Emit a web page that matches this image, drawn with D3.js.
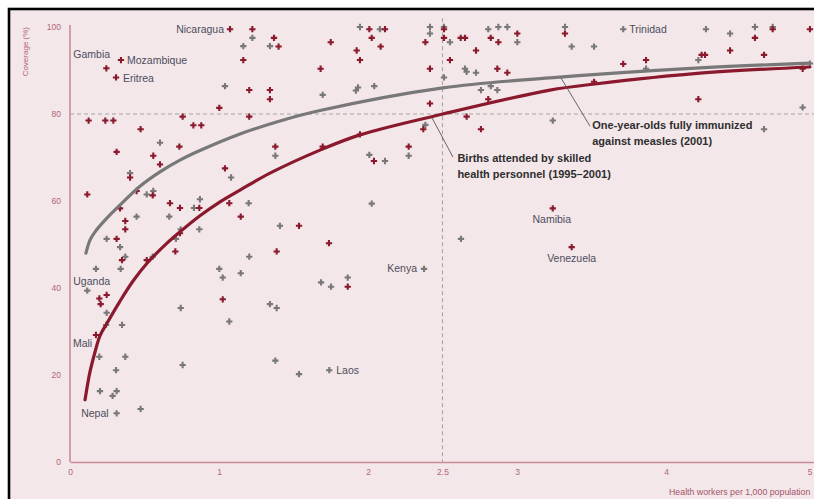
<!DOCTYPE html>
<html><head><meta charset="utf-8">
<script src="https://cdn.jsdelivr.net/npm/d3@7"></script>
<style>body{margin:0;background:#fff;} svg{display:block;}</style>
</head><body><svg id="chart" width="814" height="499"></svg>
<script>
// ---------- DATA ----------
const xTicks = [0, 1, 2, 2.5, 3, 4, 5];
const yTicks = [0, 20, 40, 60, 80, 100];
const refX = 2.5, refY = 80;

// Births attended by skilled health personnel (1995–2001): [health workers per 1,000, coverage %]
const birthsPoints = [
  [1.074,99.5],[1.224,99.5],[1.369,97.5],[1.40,95.5],[1.163,92.4],[0.342,92.4],[0.244,90.5],[0.309,88.4],
  [1.203,85.5],[1.342,85.5],[1.342,83.4],[1.002,81.4],[1.203,79.4],[0.125,78.5],[0.237,78.5],[0.291,78.5],
  [0.756,79.4],[0.828,77.4],[0.881,77.4],[0.474,76.5],[0.734,72.5],[0.313,71.3],[0.559,70.4],[0.604,68.4],
  [1.04,67.5],[1.378,72.5],[0.403,65.4],[0.116,61.5],[0.447,62.3],[0.555,61.3],[0.671,59.5],[0.738,58.4],
  [0.868,58.4],[1.069,59.5],[0.336,58.3],[1.146,56.4],[0.371,55.4],[0.371,53.5],[0.738,52.6],[0.313,51.3],
  [0.707,48.4],[1.387,48.4],[0.349,46.4],[0.515,46.4],[0.197,37.6],[0.246,38.4],[0.206,36.3],[1.025,37.4],
  [0.174,29.2],[2.04,69.2],[1.537,54.3],[1.738,50.3],[1.864,40.3],[3.24,58.3],[3.367,49.4],
  [2.009,99.5],[2.114,99.5],[2.025,97.5],[1.75,96.5],[1.924,94.6],[2.085,95.5],[1.946,92.4],[1.682,90.4],
  [1.696,72.5],[1.946,75.3],[2.273,72.5],[2.385,96.5],[2.51,99.5],[2.51,97.5],[2.416,90.4],[2.55,92.4],
  [2.622,97.5],[2.651,97.5],[2.725,94.6],[2.824,97.5],[2.875,96.5],[3.002,98.5],[2.868,90.4],[2.935,89.5],
  [2.807,83.4],[2.416,82.4],[2.662,79.4],[2.371,76.5],[2.758,76.5],
  [3.322,98.5],[3.713,91.5],[3.866,92.4],[3.517,87.4],[4.597,97.5],[4.716,99.5],[4.966,99.5],[4.43,94.6],
  [4.239,93.6],[4.262,93.6],[4.658,93.6],[4.917,90.4],[4.217,83.4]
];

// One-year-olds fully immunized against measles (2001)
const measlesPoints = [
  [1.224,97.5],[1.163,95.6],[1.342,95.6],[1.04,86.4],[0.604,73.4],[1.378,70.4],
  [0.403,66.4],[1.081,65.4],[0.515,61.5],[0.559,62.3],[0.832,58.4],[0.872,60.4],[1.199,59.5],[0.447,56.4],
  [0.666,56.4],[0.743,53.5],[0.868,53.5],[0.711,51.3],[0.246,51.3],[0.336,49.4],[0.371,47.2],[0.555,47.2],
  [1.203,47.2],[0.174,44.4],[0.340,44.4],[1.002,44.4],[1.025,42.4],[1.146,43.4],[0.116,39.4],[0.246,34.3],
  [0.743,35.4],[1.342,36.3],[1.387,35.4],[1.069,32.3],[0.242,31.5],[0.349,31.5],[1.409,54.3],
  [0.197,24.2],[0.371,24.2],[0.309,21.1],[0.756,22.3],[1.378,23.3],[0.201,16.3],[0.313,16.3],[0.286,15.2],
  [0.474,12.2],[0.313,11.2],[1.537,20.2],[1.74,21.1],
  [2.114,69.2],[2.025,59.4],[2.376,44.4],[1.864,42.4],[1.685,41.3],[1.752,40.3],[2.624,51.3],
  [1.946,100],[2.08,99.5],[1.933,86.1],[1.919,85.4],[2.042,86.4],[1.696,84.4],[2.009,70.6],[2.273,70.4],
  [2.416,100],[2.416,98.5],[2.51,100],[2.55,96.5],[2.51,88.4],[2.807,99.5],[2.875,100],[2.935,100],
  [3.002,96.5],[2.651,90.4],[2.662,89.7],[2.725,89.5],[2.758,85.5],[2.824,86.4],[2.868,85.5],[2.385,77.5],
  [3.322,100],[3.367,95.5],[3.517,95.5],[3.713,99.5],[3.866,90.4],[4.268,99.5],[4.43,98.5],[4.597,100],
  [4.716,100],[4.217,92.4],[4.966,91.6],[4.917,81.5],[3.24,78.5],[4.658,76.5]
];

// Fitted trend curves
const birthsCurve = [
  [0.101,14.3],[0.134,20.7],[0.168,25.3],[0.201,29.0],[0.248,31.9],[0.336,37.0],[0.423,41.6],[0.517,45.7],
  [0.651,50.3],[0.738,52.9],[0.872,56.6],[1.007,59.8],[1.141,62.5],[1.342,66.4],[1.678,71.7],[1.946,75.2],
  [2.503,80.0],[3.221,85.5],[3.523,86.9],[4.228,89.4],[4.966,90.8]
];
const measlesCurve = [
  [0.107,48.0],[0.134,51.0],[0.168,52.9],[0.235,55.6],[0.336,59.1],[0.470,63.4],[0.604,66.7],[0.738,69.4],
  [0.872,71.6],[1.141,75.4],[1.409,78.4],[1.678,80.8],[2.503,86.0],[3.221,88.3],[4.228,90.6],[4.966,91.7]
];

const countryLabels = [
  {name:"Nicaragua", x:1.074, y:99.5},
  {name:"Gambia", x:0.244, y:90.5},
  {name:"Mozambique", x:0.342, y:92.4},
  {name:"Eritrea", x:0.309, y:88.4},
  {name:"Uganda", x:0.116, y:39.4},
  {name:"Mali", x:0.174, y:29.2},
  {name:"Nepal", x:0.313, y:11.2},
  {name:"Laos", x:1.74, y:21.1},
  {name:"Kenya", x:2.376, y:44.4},
  {name:"Namibia", x:3.24, y:58.3},
  {name:"Venezuela", x:3.367, y:49.4},
  {name:"Trinidad", x:3.713, y:99.5}
];
const birthsTitle = ["Births attended by skilled", "health personnel (1995\u20132001)"];
const measlesTitle = ["One-year-olds fully immunized", "against measles (2001)"];
const xTitle = "Health workers per 1,000 population";
const yTitle = "Coverage (%)";

// ---------- STYLE / LAYOUT ----------
const RED = "#8a192d", GRAY = "#787878", AXIS = "#c98c98", TICKTXT = "#b26677";
const BG = "#f3e7ea";
const FONT = "'Liberation Sans', Arial, Helvetica, sans-serif";

const svg = d3.select("#chart");
svg.append("rect").attr("x", 9).attr("y", 9).attr("width", 900).attr("height", 600)
  .attr("fill", BG).attr("stroke", "#000").attr("stroke-width", 2.6);

const x = d3.scaleLinear().domain([0, 5]).range([70, 815]);
const y = d3.scaleLinear().domain([0, 100]).range([462, 27]);

// reference dashed lines
svg.append("line").attr("x1", x(0)).attr("x2", 814).attr("y1", y(refY)).attr("y2", y(refY))
  .attr("stroke", "#a9a3a5").attr("stroke-width", 1.1).attr("stroke-dasharray", "4,3");
svg.append("line").attr("x1", x(refX)).attr("x2", x(refX)).attr("y1", y(102)).attr("y2", y(0))
  .attr("stroke", "#a9a3a5").attr("stroke-width", 1.1).attr("stroke-dasharray", "4,3");

// axes
const yAxis = svg.append("g").attr("transform", `translate(${x(0)},0)`)
  .call(d3.axisLeft(y).tickValues(yTicks).tickSize(0).tickPadding(9));
const xAxis = svg.append("g").attr("transform", `translate(0,${y(0)})`)
  .call(d3.axisBottom(x).tickValues(xTicks).tickSize(0).tickPadding(7).tickFormat(d => String(d)));
[yAxis, xAxis].forEach(g => {
  g.select(".domain").attr("stroke", AXIS).attr("stroke-width", 1.6);
  g.selectAll("text").attr("fill", TICKTXT).attr("font-family", FONT).attr("font-size", 8.5);
});
yAxis.select(".domain").attr("d", `M0,${y(0)}V${y(100) - 2}`);
xAxis.selectAll(".tick text").filter(d => d === 5).attr("text-anchor", "end").attr("dx", -3);

svg.append("text").attr("transform", `translate(28,${y(100)}) rotate(-90)`)
  .attr("text-anchor", "end").attr("font-family", FONT).attr("font-size", 8)
  .attr("fill", TICKTXT).text(yTitle);
svg.append("text").attr("x", 669).attr("y", 495).attr("font-family", FONT).attr("font-size", 8.8)
  .attr("fill", "#a35566").text(xTitle);

// points
const sym = d3.symbol().type(d3.symbolCross).size(22);
svg.append("g").selectAll("path").data(measlesPoints).join("path")
  .attr("d", sym).attr("transform", d => `translate(${x(d[0])},${y(d[1])})`).attr("fill", GRAY);
svg.append("g").selectAll("path").data(birthsPoints).join("path")
  .attr("d", sym).attr("transform", d => `translate(${x(d[0])},${y(d[1])})`).attr("fill", RED);

// curves
const line = d3.line().x(d => x(d[0])).y(d => y(d[1])).curve(d3.curveCatmullRom.alpha(0.5));
svg.append("path").datum(measlesCurve).attr("d", line).attr("fill", "none")
  .attr("stroke", GRAY).attr("stroke-width", 3.2).attr("stroke-linecap", "round");
svg.append("path").datum(birthsCurve).attr("d", line).attr("fill", "none")
  .attr("stroke", RED).attr("stroke-width", 3.2).attr("stroke-linecap", "round");

// country labels
const labelPos = {
  Nicaragua: {dx:-6, dy:3.5, a:"end"}, Gambia: {dx:-33, dy:-10.5, a:"start"},
  Mozambique: {dx:6, dy:3.5, a:"start"}, Eritrea: {dx:7, dy:5, a:"start"},
  Uganda: {dx:-14, dy:-5.5, a:"start"}, Mali: {dx:-23, dy:12.5, a:"start"},
  Nepal: {dx:-8, dy:4, a:"end"}, Laos: {dx:7, dy:4, a:"start"},
  Kenya: {dx:-7, dy:3.5, a:"end"}, Namibia: {dx:-1, dy:15, a:"middle"},
  Venezuela: {dx:0, dy:15, a:"middle"}, Trinidad: {dx:6, dy:3.5, a:"start"}
};
svg.append("g").selectAll("text").data(countryLabels).join("text")
  .attr("x", d => x(d.x) + labelPos[d.name].dx).attr("y", d => y(d.y) + labelPos[d.name].dy)
  .attr("text-anchor", d => labelPos[d.name].a)
  .attr("font-family", FONT).attr("font-size", 10.5).attr("fill", "#4d4d5c")
  .text(d => d.name);

// annotations with leader lines
function annotate(lines, from, to, tx, ty) {
  svg.append("line").attr("x1", from[0]).attr("y1", from[1]).attr("x2", to[0]).attr("y2", to[1])
    .attr("stroke", "#555").attr("stroke-width", 0.9);
  const t = svg.append("text").attr("font-family", FONT).attr("font-size", 11)
    .attr("font-weight", "bold").attr("fill", "#2e2e2e");
  lines.forEach((s, i) => t.append("tspan").attr("x", tx).attr("y", ty + i * 16).text(s));
}
annotate(birthsTitle, [x(2.43), y(79.1)], [x(2.57), y(70.1)], x(2.6), y(69.5) + 2.5);
annotate(measlesTitle, [x(3.295), y(88.3)], [x(3.49), y(77.2)], x(3.505), y(77.8) + 5.5);
</script>
</body></html>
